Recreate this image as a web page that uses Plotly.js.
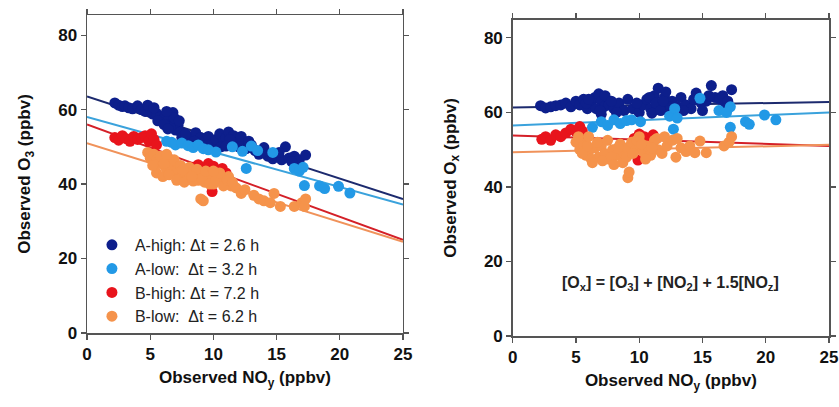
<!DOCTYPE html>
<html>
<head>
<meta charset="utf-8">
<script src="https://cdn.plot.ly/plotly-3.0.1.min.js"></script>
<style>html,body{margin:0;padding:0;background:#fff;}#chart{width:839px;height:407px;}</style>
</head>
<body>
<div id="chart"></div>
<script>
// ---- Data ----
var seriesNames = ["A-high: \u0394t = 2.6 h", "A-low:\u00a0\u00a0\u0394t = 3.2 h", "B-high: \u0394t = 7.2 h", "B-low:\u00a0\u00a0\u0394t = 6.2 h"];
var seriesColors = ["#0d1f8c", "#2299e6", "#e8141c", "#f5934b"];
var lineColors = ["#1c2a6e", "#3aa2dc", "#d42028", "#f0925a"];

// Left panel: O3 vs NOy
var leftAHighX = [2.2,2.5,2.8,3.0,3.3,3.6,4.0,4.3,4.6,5.0,5.2,5.5,5.8,6.0,6.2,6.5,6.8,7.0,7.2,7.0,7.4,6.6,7.5,8.0,8.3,8.6,9.0,9.3,9.6,10.0,10.2,10.5,10.8,11.0,11.2,11.4,11.6,11.8,12.0,12.3,12.6,13.0,13.3,13.6,14.0,14.3,14.7,15.0,15.4,15.7,16.0,16.4,16.8,17.3,
  5.6,6.1,6.4,6.9,7.3,7.8,8.5,9.5,10.6,11.3,11.0,12.2,12.8,13.8,15.2,16.2,4.8,5.3,6.3];
var leftAHighY = [61.8,61.2,60.8,61.0,60.5,60.2,61.0,60.0,59.5,60.3,58.8,59.0,58.0,57.2,58.5,57.5,59.2,56.5,55.8,54.5,54.0,55.5,52.5,52.8,52.0,53.8,52.5,51.5,52.8,51.0,52.0,53.5,51.5,52.5,54.0,50.5,53.0,51.0,50.0,51.8,49.5,50.5,49.0,48.0,49.8,47.5,46.8,47.5,46.5,50.0,47.0,47.5,46.5,47.8,
  57.0,56.0,54.8,57.8,57.0,53.5,51.5,50.5,50.0,52.0,50.2,52.8,51.5,48.5,48.5,46.0,61.2,60.5,59.5];
var leftALowX = [6.3,6.7,7.0,7.5,8.0,8.4,8.8,9.2,9.6,10.2,11.5,12.3,12.6,13.0,13.5,14.7,16.4,16.8,17.1,17.2,18.4,18.8,19.9,20.8];
var leftALowY = [51.5,51.2,50.5,51.0,50.3,49.8,50.5,49.5,49.2,48.6,50.0,48.8,44.2,50.2,49.0,48.5,44.2,43.5,44.5,39.6,39.5,38.8,39.4,37.6];
var leftBHighX = [2.2,2.5,2.8,3.1,3.4,3.7,4.0,4.3,4.6,4.9,5.1,5.3,5.5,8.4,8.8,9.2,9.6,10.0,10.3,10.7,11.0,9.9];
var leftBHighY = [52.5,51.8,53.0,52.2,51.5,52.8,52.0,52.5,53.0,51.5,53.5,52.0,50.5,44.5,45.2,44.0,45.5,44.8,43.5,44.2,43.0,38.0];
var leftBLowX = [4.8,5.0,5.3,5.5,5.7,6.0,6.2,6.4,6.6,6.8,7.0,7.2,7.5,7.8,8.0,8.2,8.5,8.8,9.0,9.3,9.5,9.8,10.0,10.3,10.6,10.9,11.2,11.4,5.5,6.0,9.0,9.2,11.8,12.2,12.5,13.2,13.6,14.0,14.8,14.5,15.3,16.4,17.0,17.2,17.3,
  5.2,5.8,6.1,6.5,6.9,7.1,7.4,7.7,8.1,8.4,8.7,9.1,9.4,9.7,10.2,10.5,10.8,11.1,11.5,6.3,7.6,8.3,10.0];
var leftBLowY = [48.5,47.0,48.0,46.5,45.5,47.0,44.5,46.0,43.5,45.0,42.5,44.0,42.0,43.0,41.5,43.5,42.5,41.0,43.0,40.5,42.0,41.5,40.0,42.5,41.0,40.5,42.0,39.5,43.0,42.0,36.0,35.5,39.0,37.5,38.5,37.0,36.0,35.5,37.5,35.0,34.0,34.0,35.0,34.0,36.0,
  45.0,47.5,45.5,42.5,46.5,41.0,45.0,40.5,44.5,40.8,44.0,41.5,43.5,40.0,41.0,43.0,39.5,41.0,40.5,48.0,43.8,42.0,43.5];

// Right panel: Ox vs NOy
var rightAHighX = [2.2,2.6,3.0,3.4,3.8,4.2,4.6,5.0,5.3,5.6,5.9,6.2,6.5,6.8,7.0,7.2,7.0,7.6,8.0,8.4,8.8,9.1,9.5,10.0,10.3,10.6,10.9,11.2,11.5,11.8,12.0,12.3,12.6,13.0,13.3,13.7,14.1,14.5,14.9,15.3,15.7,16.0,16.4,16.8,17.3,
  5.8,6.0,6.6,7.3,6.9,7.8,8.2,9.8,10.8,11.0,11.3,11.7,12.1,12.5,11.9,13.5,14.3,15.0,15.5,16.6,17.0];
var rightAHighY = [61.8,61.2,61.5,61.8,62.0,62.5,61.5,63.0,62.0,63.5,61.0,62.5,64.0,65.0,63.0,61.5,59.5,62.0,61.0,62.5,60.5,63.5,61.0,60.0,62.0,63.5,61.0,64.5,66.5,62.0,64.0,60.5,63.0,61.5,64.0,62.0,61.0,65.2,62.5,63.0,67.2,64.0,63.5,62.5,66.1,
  62.5,63.5,61.0,64.5,60.5,63.0,60.0,62.5,64.0,59.8,62.5,60.5,65.5,61.5,63.0,60.5,63.5,60.5,64.5,64.5,63.0];
var rightALowX = [6.3,7.0,7.5,8.0,8.5,9.0,9.4,10.1,12.4,12.8,12.7,13.0,14.8,16.3,16.9,17.2,17.2,18.4,18.7,19.9,20.8];
var rightALowY = [56.0,57.5,56.5,58.0,57.0,57.8,58.0,57.5,59.0,61.0,55.5,58.5,63.8,60.5,60.0,61.5,56.0,57.5,56.8,59.3,58.0];
var rightBHighX = [2.3,2.6,3.0,3.4,3.8,4.2,4.6,5.0,5.3,5.5,9.6,10.0,10.4,10.8,11.1,9.9];
var rightBHighY = [52.8,53.5,52.5,54.0,53.5,54.5,55.5,54.8,56.2,55.0,53.0,54.2,53.5,52.8,54.0,47.2];
var rightBLowX = [5.0,5.3,5.6,5.8,6.0,6.2,6.5,6.8,7.0,7.3,7.6,7.9,8.2,8.5,8.8,9.1,9.4,9.7,10.0,10.3,10.6,10.9,11.2,11.5,11.8,12.2,12.6,12.9,13.3,13.7,14.0,14.4,14.8,15.3,16.7,17.1,17.3,9.1,9.2,
  5.2,5.5,5.9,6.3,6.7,7.1,7.5,7.8,8.3,8.7,9.0,9.5,9.8,10.2,10.5,11.0,11.4,6.0,8.0,12.0,13.0];
var rightBLowY = [52.0,50.0,51.5,48.5,49.5,47.5,50.5,48.0,51.0,49.0,47.5,50.0,48.5,51.5,49.0,50.5,52.0,50.0,53.5,49.5,51.0,48.5,52.5,50.0,49.0,51.0,52.5,48.0,50.5,49.5,51.0,49.2,52.3,49.2,51.0,52.0,53.5,42.5,44.0,
  53.5,49.0,51.0,46.5,52.0,47.0,52.5,48.0,50.5,46.5,48.0,49.0,52.5,51.5,47.5,50.5,53.0,53.5,46.0,53.5,53.0];

// Linear fit lines (endpoints)
var fitX = [0, 25];
var leftFits = [[63.5, 36.0], [58.0, 34.5], [56.0, 25.0], [51.0, 24.5]];
var rightFits = [[61.3, 62.8], [56.5, 60.0], [53.8, 51.0], [49.3, 51.3]];

var xTicks = [0, 5, 10, 15, 20, 25];
var yTicks = [0, 20, 40, 60, 80];
var annText = "[O<sub>x</sub>] = [O<sub>3</sub>] + [NO<sub>2</sub>] + 1.5[NO<sub>z</sub>]";

// ---- Traces ----
var leftX = [leftAHighX, leftALowX, leftBHighX, leftBLowX];
var leftY = [leftAHighY, leftALowY, leftBHighY, leftBLowY];
var rightX = [rightAHighX, rightALowX, rightBHighX, rightBLowX];
var rightY = [rightAHighY, rightALowY, rightBHighY, rightBLowY];

var traces = [];
for (var i = 0; i < 4; i++) {
  traces.push({x: fitX, y: leftFits[i], xaxis: 'x', yaxis: 'y', mode: 'lines',
    line: {color: lineColors[i], width: 2}, showlegend: false, hoverinfo: 'skip'});
  traces.push({x: fitX, y: rightFits[i], xaxis: 'x2', yaxis: 'y2', mode: 'lines',
    line: {color: lineColors[i], width: 2}, showlegend: false, hoverinfo: 'skip'});
}
for (var j = 0; j < 4; j++) {
  traces.push({x: leftX[j], y: leftY[j], xaxis: 'x', yaxis: 'y', mode: 'markers', name: seriesNames[j],
    marker: {color: seriesColors[j], size: 11}, showlegend: true, legendgroup: 'g' + j});
  traces.push({x: rightX[j], y: rightY[j], xaxis: 'x2', yaxis: 'y2', mode: 'markers', name: seriesNames[j],
    marker: {color: seriesColors[j], size: 11}, showlegend: false, legendgroup: 'g' + j});
}

var tickFont = {family: 'Arial, Liberation Sans, sans-serif', size: 17, color: '#111', weight: 'bold'};
var titleFont = {family: 'Arial, Liberation Sans, sans-serif', size: 17, color: '#111', weight: 'bold'};
function xa(dom, title) {
  return {domain: dom, range: [0, 25], tickvals: xTicks, ticks: 'outside', ticklen: 5, tickwidth: 1.2,
    tickcolor: '#555', showline: true, linecolor: '#555', linewidth: 1.5, mirror: 'ticks',
    showgrid: false, zeroline: false, tickfont: tickFont,
    title: {text: title, font: titleFont, standoff: 8}};
}
function ya(dom, top, title, anchor) {
  return {domain: dom, range: [0, top], tickvals: yTicks, ticks: 'outside', ticklen: 5, tickwidth: 1.2,
    tickcolor: '#555', showline: true, linecolor: '#555', linewidth: 1.5, mirror: 'ticks',
    showgrid: false, zeroline: false, tickfont: tickFont, anchor: anchor,
    title: {text: title, font: titleFont, standoff: 23}};
}

var layout = {
  width: 839, height: 407,
  margin: {l: 0, r: 0, t: 0, b: 0},
  paper_bgcolor: '#fff', plot_bgcolor: '#fff',
  showlegend: true,
  xaxis: Object.assign(xa([0.1037, 0.4803], 'Observed NO<sub>y</sub> (ppbv)'), {anchor: 'y'}),
  yaxis: ya([0.1818, 0.9631], 85.4, 'Observed O<sub>3</sub> (ppbv)', 'x'),
  xaxis2: Object.assign(xa([0.6111, 0.9881], 'Observed NO<sub>y</sub> (ppbv)'), {anchor: 'y2'}),
  yaxis2: ya([0.1744, 0.9509], 84.8, 'Observed O<sub>x</sub> (ppbv)', 'x2'),
  legend: {x: 0.106, y: 0.44, xanchor: 'left', yanchor: 'top', bgcolor: 'rgba(0,0,0,0)', itemwidth: 36,
    font: {family: 'Arial, Liberation Sans, sans-serif', size: 16, color: '#222'}, tracegroupgap: 0},
  annotations: [{x: 12.5, y: 14.2, xref: 'x2', yref: 'y2', text: annText, showarrow: false,
    font: {family: 'Arial, Liberation Sans, sans-serif', size: 16, color: '#222', weight: 'bold'}}]
};

Plotly.newPlot('chart', traces, layout, {staticPlot: true, displayModeBar: false});
</script>
</body>
</html>
